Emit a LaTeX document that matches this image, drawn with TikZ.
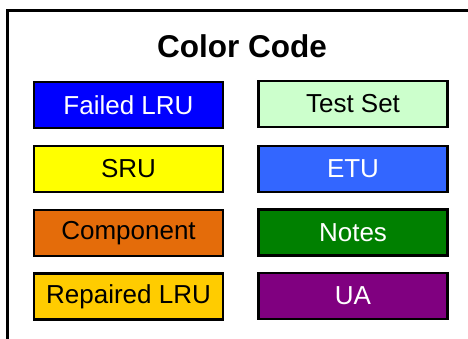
\documentclass[tikz,border=0pt]{standalone}
\usepackage{fontspec}
\setmainfont{Liberation Sans}
\definecolor{cFailed}{HTML}{0000FF}
\definecolor{cSRU}{HTML}{FFFF00}
\definecolor{cComp}{HTML}{E46C0A}
\definecolor{cRep}{HTML}{FFCC00}
\definecolor{cTest}{HTML}{CCFFCC}
\definecolor{cETU}{HTML}{3366FF}
\definecolor{cNotes}{HTML}{008000}
\definecolor{cUA}{HTML}{800080}
\begin{document}
\begin{tikzpicture}[x=1pt,y=-1pt,
  keybox/.style={draw=black,line width=2.6pt,minimum width=189pt,minimum height=46pt,
    inner sep=0pt,font=\fontsize{26}{29}\selectfont,text=black},
  frame/.style={draw=black,line width=3pt}]
\useasboundingbox (0,0) rectangle (468,339);
\begin{scope}
\clip (0,0) rectangle (468,339);
\draw[frame] (7.2,360) -- (7.2,10.5) -- (480,10.5);
\end{scope}
\node[font=\bfseries\fontsize{31.5}{35}\selectfont] (title) at (242,46) {Color Code};
\node[keybox,fill=cFailed,text=white] (failed) at (128.5,105) {Failed LRU};
\node[keybox,fill=cSRU] (sru) at (128.5,169) {SRU};
\node[keybox,fill=cComp] (comp) at (128.5,233) {Component};
\node[keybox,fill=cRep] (rep) at (128.5,296.5) {Repaired LRU};
\node[keybox,fill=cTest] (test) at (353,104) {Test Set};
\node[keybox,fill=cETU,text=white] (etu) at (353,169) {ETU};
\node[keybox,fill=cNotes,text=white] (notes) at (353,232.5) {Notes};
\node[keybox,fill=cUA,text=white] (ua) at (353,296) {UA};
\end{tikzpicture}
\end{document}
